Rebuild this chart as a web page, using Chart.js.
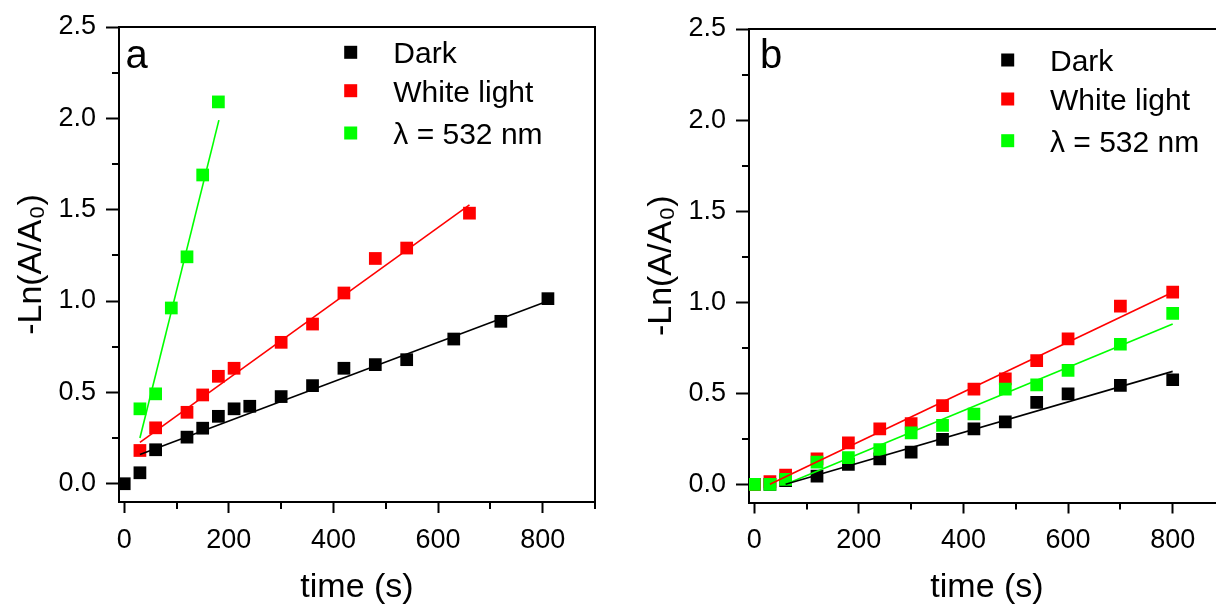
<!DOCTYPE html>
<html><head><meta charset="utf-8">
<script src="https://cdn.jsdelivr.net/npm/chart.js@4"></script>
<style>
html,body{margin:0;padding:0;background:#fff;overflow:hidden;width:1216px;height:607px;}
#wrap{position:relative;width:1216px;height:607px;overflow:hidden;background:#fff;}
.pane{position:absolute;top:0;width:608px;height:607px;}
#pa{left:0px}
#pb{left:630px}
canvas{display:block;}
</style></head><body>
<div id="wrap">
<div class="pane" id="pa"><canvas id="ca" width="608" height="607"></canvas></div>
<div class="pane" id="pb"><canvas id="cb" width="608" height="607"></canvas></div>
</div>
<script>
// ---- tick labels ----
const xTicks = [0, 200, 400, 600, 800];
const xMinorTicks = [100, 300, 500, 700, 900];
const yTicks = [0.0, 0.5, 1.0, 1.5, 2.0, 2.5];
const yMinorTicks = [0.25, 0.75, 1.25, 1.75, 2.25];
const seriesNames = ['Dark', 'White light', 'λ = 532 nm'];
const seriesColors = ['#000000', '#ff0000', '#00ff00'];
const xTitle = 'time (s)';
const yTitle = '-Ln(A/A₀)';

// ---- panel a ----
const timeDarkA  = [0, 30, 60, 120, 150, 180, 210, 240, 300, 360, 420, 480, 540, 630, 720, 810];
const darkA      = [0.00, 0.06, 0.186, 0.255, 0.304, 0.369, 0.41, 0.424, 0.477, 0.537, 0.632, 0.652, 0.679, 0.792, 0.889, 1.013];
const timeWhiteA = [30, 60, 120, 150, 180, 210, 300, 360, 420, 480, 540, 660];
const whiteA     = [0.182, 0.306, 0.391, 0.486, 0.588, 0.632, 0.774, 0.874, 1.044, 1.233, 1.29, 1.481];
const time532A   = [30, 60, 90, 120, 150, 180];
const green532A  = [0.41, 0.492, 0.962, 1.242, 1.69, 2.09];
// fitted lines (end points) panel a
const fitDarkAx = [30, 810],  fitDarkAy = [0.16, 1.0];
const fitWhiteAx = [30, 660], fitWhiteAy = [0.226, 1.526];
const fit532Ax = [30, 181],   fit532Ay = [0.25, 1.99];

// ---- panel b ----
const timeB   = [0, 30, 60, 120, 180, 240, 300, 360, 420, 480, 540, 600, 700, 800];
const darkB   = [0.0, 0.0, 0.02, 0.045, 0.109, 0.14, 0.177, 0.246, 0.304, 0.343, 0.45, 0.496, 0.543, 0.574];
const whiteB  = [0.0, 0.015, 0.05, 0.14, 0.228, 0.304, 0.333, 0.432, 0.523, 0.579, 0.679, 0.798, 0.978, 1.055];
const green532B = [0.0, 0.0, 0.027, 0.122, 0.146, 0.191, 0.282, 0.324, 0.386, 0.523, 0.546, 0.625, 0.769, 0.938];
// fitted lines (end points) panel b
const fitDarkBx = [60, 800],  fitDarkBy = [0.0, 0.62];
const fitWhiteBx = [30, 800], fitWhiteBy = [0.0, 1.055];
const fit532Bx = [60, 800],   fit532By = [0.0, 0.88];

const FONT = '"Liberation Sans", Arial, Helvetica, sans-serif';
const zip = (xs, ys) => xs.map((x, i) => ({x: x, y: ys[i]}));

const decoPlugin = {
  id: 'deco',
  afterDraw(chart, args, o) {
    const ctx = chart.ctx;
    const ca = chart.chartArea;
    const xs = chart.scales.x, ys = chart.scales.y;
    ctx.save();
    ctx.strokeStyle = '#000';
    ctx.lineWidth = 2;
    // top and right frame
    ctx.beginPath();
    ctx.moveTo(ca.left - 1, Math.round(ca.top));
    ctx.lineTo(ca.right + 1, Math.round(ca.top));
    ctx.moveTo(Math.round(ca.right), ca.top);
    ctx.lineTo(Math.round(ca.right), ca.bottom + 1);
    ctx.stroke();
    // minor ticks
    ctx.beginPath();
    yMinorTicks.forEach(v => {
      const p = Math.round(ys.getPixelForValue(v));
      ctx.moveTo(ca.left - 7, p); ctx.lineTo(ca.left, p);
    });
    xMinorTicks.forEach(v => {
      const p = Math.round(xs.getPixelForValue(v));
      ctx.moveTo(p, ca.bottom); ctx.lineTo(p, ca.bottom + 7);
    });
    ctx.stroke();
    // panel letter
    ctx.fillStyle = '#000';
    ctx.textBaseline = 'alphabetic';
    ctx.textAlign = 'left';
    ctx.font = '40px ' + FONT;
    ctx.fillText(o.letter, ca.left + o.letterX, ca.top + o.letterY);
    // legend
    ctx.font = '30px ' + FONT;
    seriesNames.forEach((name, i) => {
      const by = ca.top + o.rows[i];
      ctx.fillStyle = seriesColors[i];
      ctx.fillRect(ca.left + o.sqX - 6.5, by - 11 - 6.5, 13, 13);
      ctx.fillStyle = '#000';
      ctx.fillText(name, ca.left + o.txtX, by);
    });
    ctx.restore();
  }
};

function makeChart(id, pts, fits, deco, top, bottom) {
  const datasets = [];
  fits.forEach((f, i) => datasets.push({
    data: zip(f[0], f[1]), showLine: true, pointRadius: 0, borderWidth: 1.6,
    borderColor: seriesColors[i], backgroundColor: seriesColors[i], order: 0
  }));
  pts.forEach((p, i) => datasets.push({
    data: zip(p[0], p[1]), showLine: false, pointStyle: 'rect', pointRadius: 9,
    pointBorderWidth: 0, pointBackgroundColor: seriesColors[i], backgroundColor: seriesColors[i],
    borderColor: seriesColors[i], order: 3 - i
  }));
  return new Chart(document.getElementById(id), {
    type: 'scatter',
    data: {datasets},
    plugins: [decoPlugin],
    options: {
      responsive: false, animation: false, devicePixelRatio: 1,
      layout: {padding: {left: 0, top: top, right: 13, bottom: 0}},
      plugins: {legend: {display: false}, tooltip: {enabled: false}, deco: deco},
      scales: {
        x: {
          type: 'linear', min: -10, max: 900,
          afterBuildTicks: s => { s.ticks = xTicks.map(v => ({value: v})); },
          afterFit: s => { s.height = 607 - bottom; },
          grid: {display: true, drawOnChartArea: false, drawTicks: true, tickLength: 11, tickWidth: 2, tickColor: '#000'},
          border: {display: true, color: '#000', width: 2},
          ticks: {font: {family: FONT, size: 27}, color: '#000', padding: 11, maxRotation: 0, autoSkip: false,
                  callback: v => String(v)},
          title: {display: true, text: xTitle, color: '#000', font: {family: FONT, size: 34, lineHeight: 1},
                  padding: {top: 0, bottom: 2}}
        },
        y: {
          type: 'linear', min: -0.1, max: 2.5,
          afterBuildTicks: s => { s.ticks = yTicks.map(v => ({value: v})); },
          afterFit: s => { s.width = 119; },
          grid: {display: true, drawOnChartArea: false, drawTicks: true, tickLength: 13, tickWidth: 2, tickColor: '#000'},
          border: {display: true, color: '#000', width: 2},
          ticks: {font: {family: FONT, size: 27}, color: '#000', padding: 10, autoSkip: false,
                  callback: v => Number(v).toFixed(1)},
          title: {display: true, text: yTitle, color: '#000', font: {family: FONT, size: 34, lineHeight: 1},
                  padding: {top: 15, bottom: 0}}
        }
      }
    }
  });
}

makeChart('ca',
  [[timeDarkA, darkA], [timeWhiteA, whiteA], [time532A, green532A]],
  [[fitDarkAx, fitDarkAy], [fitWhiteAx, fitWhiteAy], [fit532Ax, fit532Ay]],
  {letter: 'a', letterX: 6.5, letterY: 41, sqX: 231.7, txtX: 274.3, rows: [36.3, 74.7, 117]},
  27, 502);
makeChart('cb',
  [[timeB, darkB], [timeB, whiteB], [timeB, green532B]],
  [[fitDarkBx, fitDarkBy], [fitWhiteBx, fitWhiteBy], [fit532Bx, fit532By]],
  {letter: 'b', letterX: 11, letterY: 39.3, sqX: 258.7, txtX: 301, rows: [42, 81, 122.7]},
  29, 502.5);
</script>
</body></html>
